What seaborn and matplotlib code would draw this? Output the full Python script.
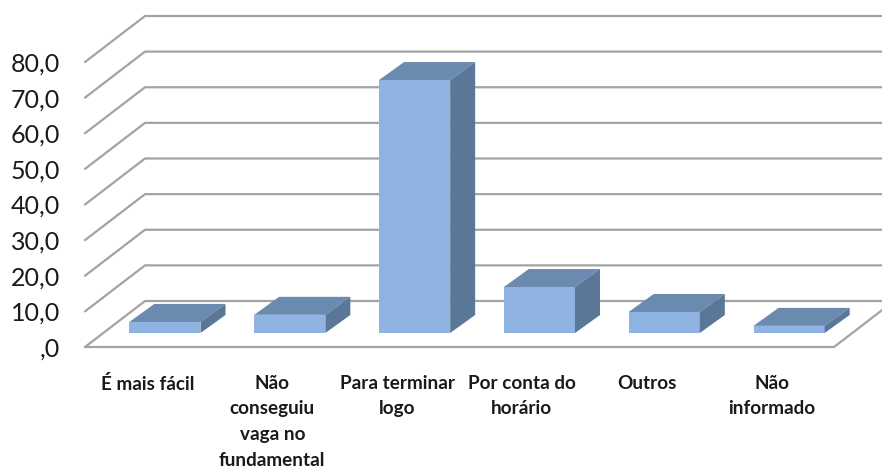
import matplotlib
matplotlib.use("Agg")
import matplotlib.pyplot as plt
import seaborn as sns
import pandas as pd
from matplotlib.patches import Polygon
from matplotlib.transforms import Affine2D

categories = ["É mais fácil", "Não\nconseguiu\nvaga no\nfundamental", "Para terminar\nlogo",
              "Por conta do\nhorário", "Outros", "Não\ninformado"]
values = [3.1, 5.1, 71.0, 12.9, 5.9, 2.0]
ticks = [0, 10, 20, 30, 40, 50, 60, 70, 80]
tick_labels = [",0", "10,0", "20,0", "30,0", "40,0", "50,0", "60,0", "70,0", "80,0"]

W, H = 882, 469
LEFT, RIGHT, Y0, Y80 = 85, 834, 347, 62
FRONT, TOP, SIDE, GRID = "#8FB4E3", "#6B8AB0", "#5B7797", "#A3A3A3"
TEXT = "#1A1A1A"

sns.set_theme(style="white")
plt.rcParams["font.family"] = ["Lato", "DejaVu Sans"]

fig = plt.figure(figsize=(W / 100, H / 100), dpi=100, facecolor="white")
ax = fig.add_axes([LEFT / W, 1 - Y0 / H, (RIGHT - LEFT) / W, (Y0 - Y80) / H])

df = pd.DataFrame({"cat": categories, "val": values})
sns.barplot(data=df, x="cat", y="val", color=FRONT, saturation=1, width=0.57, ax=ax,
            errorbar=None, zorder=3, linewidth=0)
ax.set_xlim(-0.5, 5.5)
ax.set_ylim(0, 80)
ax.set_xlabel("")
ax.set_ylabel("")
ax.patch.set_alpha(0)
sns.despine(ax=ax, left=True, bottom=True)

# Depth of the box walls and of the bars, in pixels
wall_dx, wall_dy = 60, 46
base_dx, base_dy = 17.5, 14
bar_dx, bar_dy = 25, 18
ux = (RIGHT - LEFT) / 6       # px per category
uy = (Y0 - Y80) / 80          # px per value unit

grid_kw = dict(color=GRID, lw=1.6, zorder=1, clip_on=False, solid_capstyle="round")
xa, xb = -0.5, 5.5
for v in ticks:
    ax.plot([xa, xa + wall_dx / ux, xb + wall_dx / ux],
            [v, v + wall_dy / uy, v + wall_dy / uy], **grid_kw)
ax.plot([xa, xb, xb + wall_dx / ux], [0, 0, wall_dy / uy], **grid_kw)

shift = Affine2D().translate(base_dx, base_dy)
tr = ax.transData + shift
for p in ax.patches:
    x, w, h = p.get_x(), p.get_width(), p.get_height()
    p.set_transform(tr)
    p.set_clip_on(False)
    ddx, ddy = bar_dx / ux, bar_dy / uy
    ax.add_patch(Polygon([(x, h), (x + w, h), (x + w + ddx, h + ddy), (x + ddx, h + ddy)],
                         closed=True, fc=TOP, ec="none", transform=tr, zorder=3, clip_on=False))
    ax.add_patch(Polygon([(x + w, 0), (x + w + ddx, ddy), (x + w + ddx, h + ddy), (x + w, h)],
                         closed=True, fc=SIDE, ec="none", transform=tr, zorder=3, clip_on=False))

ax.set_yticks(ticks)
ax.set_yticklabels(tick_labels, fontsize=18, color=TEXT)
ax.tick_params(axis="y", length=0, pad=18)
ax.tick_params(axis="x", length=0, pad=20)
ax.set_xticks(range(len(categories)))
ax.set_xticklabels(categories, fontsize=13.6, color=TEXT, fontweight="bold", linespacing=1.62)

fig.savefig("out.png", dpi=100, facecolor="white")
